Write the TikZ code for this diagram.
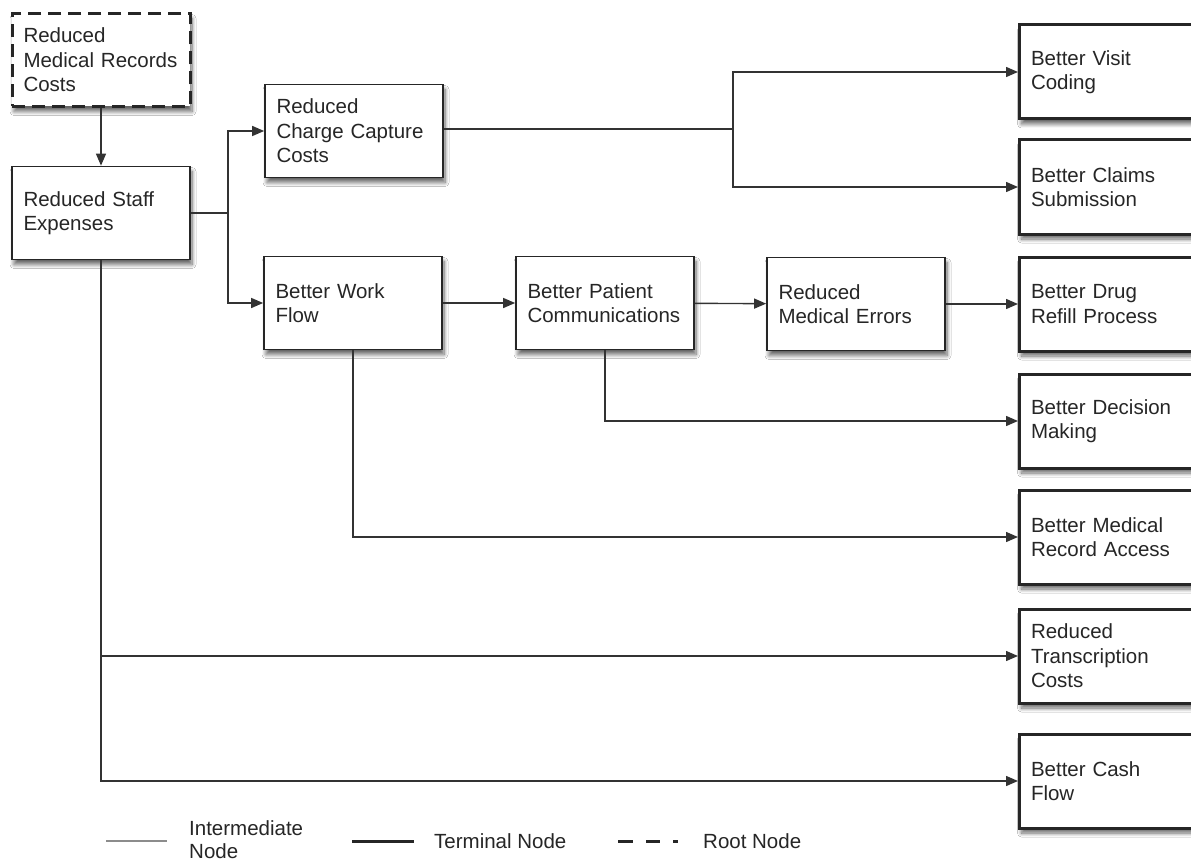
\documentclass[tikz,border=0pt]{standalone}
\usepackage{fontspec}
\setmainfont{Liberation Sans}
\usetikzlibrary{arrows.meta}
\usetikzlibrary{shadows.blur}
\tikzstyle{Box}=[rectangle,draw=black!85,fill=white,align=left,
inner xsep=11.5pt,inner ysep=4pt,text width=155pt,minimum height=93pt,
font=\fontsize{20.5}{24.5}\selectfont,text=black!85,
blur shadow={shadow xshift=2pt,shadow yshift=-5pt,shadow opacity=60,
shadow blur steps=8,shadow blur radius=4pt}]
\tikzstyle{Inter}=[Box,line width=1.7pt]
\tikzstyle{Terminal}=[Box,line width=3pt,text width=160pt,minimum height=94pt]
\tikzstyle{Root}=[Box,line width=3pt,dash pattern=on 13pt off 7pt]
\tikzstyle{Edge}=[draw=black!80,line width=1.4pt]
\tikzstyle{Arrow}=[Edge,-{Triangle[length=12pt,width=10pt]}]
\tikzstyle{Legend}=[align=left,inner sep=0pt,anchor=west,text=black!85,
font=\fontsize{20.5}{23}\selectfont]

\begin{document}
\begin{tikzpicture}[x=1pt,y=-1pt]
    \useasboundingbox[fill=white](0,0)rectangle(1191,861);
    % intermediate and root nodes
    \node[Root](root)at(101,60){Reduced\\Medical Records\\Costs};
    \node[Inter](staff)at(101,213){Reduced Staff\\Expenses};
    \node[Inter](charge)at(354,131){Reduced\\Charge Capture\\Costs};
    \node[Inter](flow)at(353,303){Better Work\\Flow};
    \node[Inter](patient)at(605,303){Better Patient\\Communications};
    \node[Inter](errors)at(856,304){Reduced\\Medical Errors};
    % terminal nodes
    \node[Terminal](visit)at(1111,72){Better Visit\\Coding};
    \node[Terminal](claims)at(1111,187){Better Claims\\Submission};
    \node[Terminal](drug)at(1111,304){Better Drug\\Refill Process};
    \node[Terminal](decision)at(1111,421){Better Decision\\Making};
    \node[Terminal](record)at(1111,537){Better Medical\\Record Access};
    \node[Terminal](transc)at(1111,656){Reduced\\Transcription\\Costs};
    \node[Terminal](cash)at(1111,781){Better Cash\\Flow};
    % branch points
    \coordinate(j1)at(228,213);
    \coordinate(j2)at(733,129);
    \draw[Arrow](root)--(staff);
    \draw[Edge](staff.east)--(j1);
    \draw[Arrow](j1)|-(charge.west);
    \draw[Arrow](j1)|-(flow.west);
    \draw[Edge](charge.east|-j2)--(j2);
    \draw[Arrow](j2)|-(visit.west);
    \draw[Arrow](j2)|-(claims.west);
    \draw[Arrow](flow)--(patient);
    \draw[Arrow](patient)--(errors);
    \draw[Arrow](errors)--(drug);
    \draw[Arrow](patient.south)|-(decision.west);
    \draw[Arrow](flow.south)|-(record.west);
    \draw[Arrow](staff.south)|-(transc.west);
    \draw[Arrow](staff.south)|-(cash.west);
    % legend
    \coordinate(l1a)at(106,841);
    \coordinate(l1b)at(167,841);
    \coordinate(l2a)at(352,841);
    \coordinate(l2b)at(414,841);
    \coordinate(l3a)at(618,841);
    \coordinate(l3b)at(680,841);
    \draw[line width=1.6pt,black!45](l1a)--(l1b);
    \draw[line width=3pt,black!85](l2a)--(l2b);
    \draw[line width=3pt,black!85,dash pattern=on 15pt off 13pt on 14pt off 13pt on 5pt off 20pt](l3a)--(l3b);
    \node[Legend](lg1)at(189,840){Intermediate\\Node};
    \node[Legend](lg2)at(434,841){Terminal Node};
    \node[Legend](lg3)at(703,841){Root Node};
\end{tikzpicture}
\end{document}
